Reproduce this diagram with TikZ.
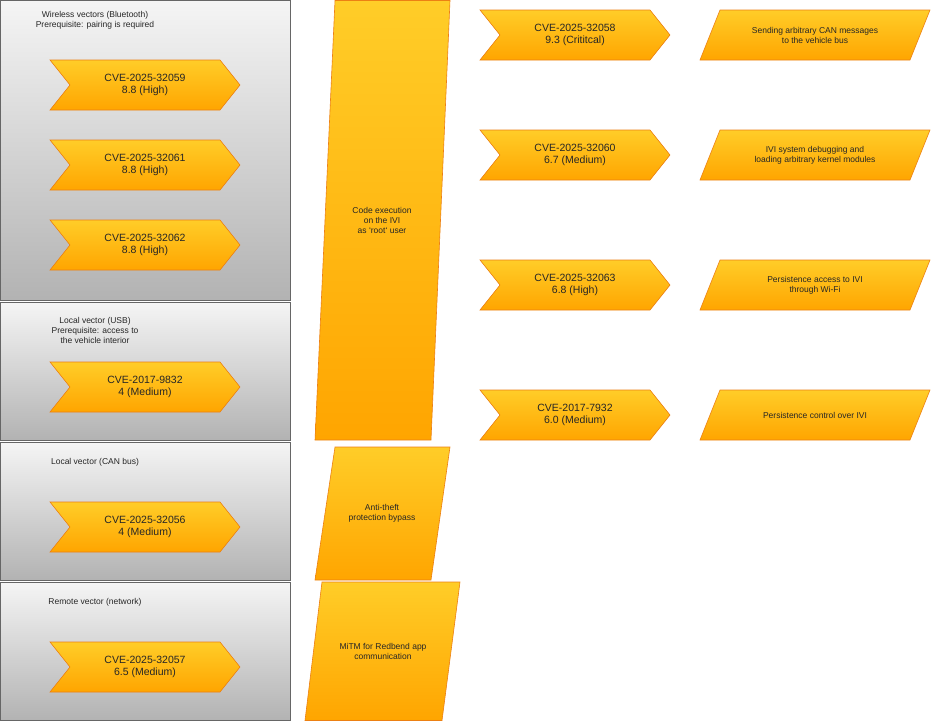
\documentclass[tikz,border=0pt]{standalone}
\usepackage{fontspec}
\setmainfont{Liberation Sans}
\begin{document}
\begin{tikzpicture}[x=1pt,y=-1pt,
 panel/.style={draw=black!60,top color=black!4,bottom color=black!30,line width=0.8pt},
 org/.style={draw=orange!70!brown,top color={rgb,255:red,255;green,205;blue,40},bottom color={rgb,255:red,255;green,165;blue,0},line width=0.6pt},
 lbl/.style={font=\fontsize{8.5}{10}\selectfont,align=center,text=black!85},
 cve/.style={font=\fontsize{10.5}{12.5}\selectfont,align=center,text=black!85}]
\useasboundingbox (0,0) rectangle (931,721);
\def\panel#1#2#3{\shade[panel] (0,#1) rectangle (290,#2); \node[lbl,anchor=north west] (#3) at (0,#1) {};}
\shade[panel] (0.5,0.5) rectangle (290,300);
\shade[panel] (0.5,302) rectangle (290,440);
\shade[panel] (0.5,442) rectangle (290,580);
\shade[panel] (0.5,582) rectangle (290,720.5);
\node[lbl,align=center] (t1) at (95,20) {Wireless vectors (Bluetooth)\\Prerequisite: pairing is required};
\node[lbl,align=center] (t2) at (95,330) {Local vector (USB)\\Prerequisite: access to\\the vehicle interior};
\node[lbl] (t3) at (95,462) {Local vector (CAN bus)};
\node[lbl] (t4) at (95,602) {Remote vector (network)};
% chevrons
\newcommand\chev[5]{% x1 y1 x2 y2 name
 \shade[org] (#1,#2) -- (#3-20,#2) -- (#3,#2/2+#4/2) -- (#3-20,#4) -- (#1,#4) -- (#1+20,#2/2+#4/2) -- cycle;
 \coordinate (#5) at (#1/2+#3/2,#2/2+#4/2);}
\chev{50}{60}{240}{110}{c1}\node[cve] at (c1) {CVE-2025-32059\\8.8 (High)};
\chev{50}{140}{240}{190}{c2}\node[cve] at (c2) {CVE-2025-32061\\8.8 (High)};
\chev{50}{220}{240}{270}{c3}\node[cve] at (c3) {CVE-2025-32062\\8.8 (High)};
\chev{50}{362}{240}{412}{c4}\node[cve] at (c4) {CVE-2017-9832\\4 (Medium)};
\chev{50}{502}{240}{552}{c5}\node[cve] at (c5) {CVE-2025-32056\\4 (Medium)};
\chev{50}{642}{240}{692}{c6}\node[cve] at (c6) {CVE-2025-32057\\6.5 (Medium)};
\chev{480}{10}{670}{60}{r1}\node[cve] at (r1) {CVE-2025-32058\\9.3 (Crititcal)};
\chev{480}{130}{670}{180}{r2}\node[cve] at (r2) {CVE-2025-32060\\6.7 (Medium)};
\chev{480}{260}{670}{310}{r3}\node[cve] at (r3) {CVE-2025-32063\\6.8 (High)};
\chev{480}{390}{670}{440}{r4}\node[cve] at (r4) {CVE-2017-7932\\6.0 (Medium)};
% middle parallelograms
\shade[org] (335,0.5) -- (450,0.5) -- (431,440) -- (315,440) -- cycle;
\node[lbl] (m1) at (382,220) {Code execution\\on the IVI\\as `root` user};
\shade[org] (335,447) -- (450,447) -- (431,580) -- (315,580) -- cycle;
\node[lbl] (m2) at (382,513) {Anti-theft\\protection bypass};
\shade[org] (322,582) -- (460,582) -- (442,720.5) -- (305,720.5) -- cycle;
\node[lbl] (m3) at (383,651) {MiTM for Redbend app\\communication};
% right parallelograms
\newcommand\para[3]{\shade[org] (720,#1) -- (930,#1) -- (910,#2) -- (700,#2) -- cycle; \coordinate (#3) at (815,#1/2+#2/2);}
\para{10}{60}{p1}\node[lbl] at (p1) {Sending arbitrary CAN messages\\to the vehicle bus};
\para{130}{180}{p2}\node[lbl] at (p2) {IVI system debugging and\\loading arbitrary kernel modules};
\para{260}{310}{p3}\node[lbl] at (p3) {Persistence access to IVI\\through Wi-Fi};
\para{390}{440}{p4}\node[lbl] at (p4) {Persistence control over IVI};
\end{tikzpicture}
\end{document}
